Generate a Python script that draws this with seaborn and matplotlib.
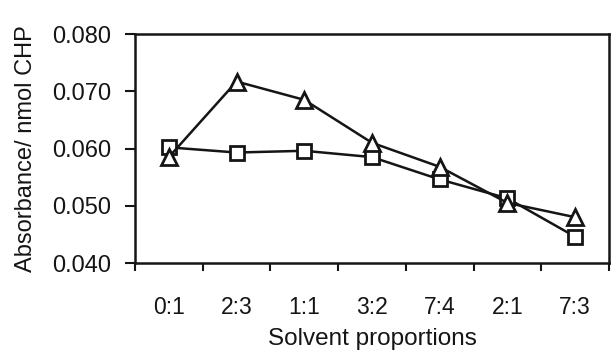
import matplotlib
matplotlib.use("Agg")
import matplotlib.pyplot as plt
from matplotlib.ticker import FixedLocator, FormatStrFormatter
import seaborn as sns
import pandas as pd

ratios = ["0:1", "2:3", "1:1", "3:2", "7:4", "2:1", "7:3"]
triangle_vals = [0.0585, 0.0717, 0.0685, 0.0610, 0.0568, 0.0505, 0.0480]
square_vals = [0.0602, 0.0593, 0.0596, 0.0585, 0.0546, 0.0513, 0.0446]
y_ticks = [0.040, 0.050, 0.060, 0.070, 0.080]

sns.set_theme(style="white")
plt.rcParams["font.family"] = ["Liberation Sans", "DejaVu Sans"]

ink = "#151515"

df = pd.DataFrame({
    "ratio": ratios * 2,
    "value": triangle_vals + square_vals,
    "series": ["tri"] * len(ratios) + ["sq"] * len(ratios),
})

fig = plt.figure(figsize=(6.12, 3.51), dpi=100)
ax = fig.add_axes([0.2206, 0.2507, 0.7744, 0.6524])

for name, marker, ms in [("sq", "s", 10), ("tri", "^", 11.5)]:
    sub = df[df["series"] == name]
    sns.pointplot(data=sub, x="ratio", y="value", order=ratios, color=ink,
                  marker=marker, markersize=ms, linewidth=1.8,
                  markerfacecolor="white", markeredgecolor=ink,
                  markeredgewidth=2.0, errorbar=None, ax=ax)

ax.set_xlim(-0.5, len(ratios) - 0.5)
ax.set_ylim(y_ticks[0], y_ticks[-1])
ax.set_yticks(y_ticks)
ax.yaxis.set_major_formatter(FormatStrFormatter("%.3f"))
ax.set_xticks(range(len(ratios)))
ax.set_xticklabels(ratios)
ax.xaxis.set_minor_locator(FixedLocator([i - 0.5 for i in range(len(ratios) + 1)]))

ax.tick_params(axis="x", which="major", length=0, pad=24, labelsize=16.5, colors=ink)
ax.tick_params(axis="x", which="minor", length=6, width=1.5, direction="out",
               bottom=True, color=ink)
ax.tick_params(axis="y", which="major", length=7, width=1.5, direction="out",
               left=True, pad=10, labelsize=17, colors=ink)

for side in ["left", "right", "top", "bottom"]:
    ax.spines[side].set_visible(True)
    ax.spines[side].set_color(ink)
    ax.spines[side].set_linewidth(1.8)

ax.set_xlabel("Solvent proportions", fontsize=17.5, color=ink, labelpad=6)
ax.set_ylabel("Absorbance/ nmol CHP", fontsize=17, color=ink, labelpad=11)
ax.grid(False)

fig.savefig("out.png", dpi=100, facecolor="white")
